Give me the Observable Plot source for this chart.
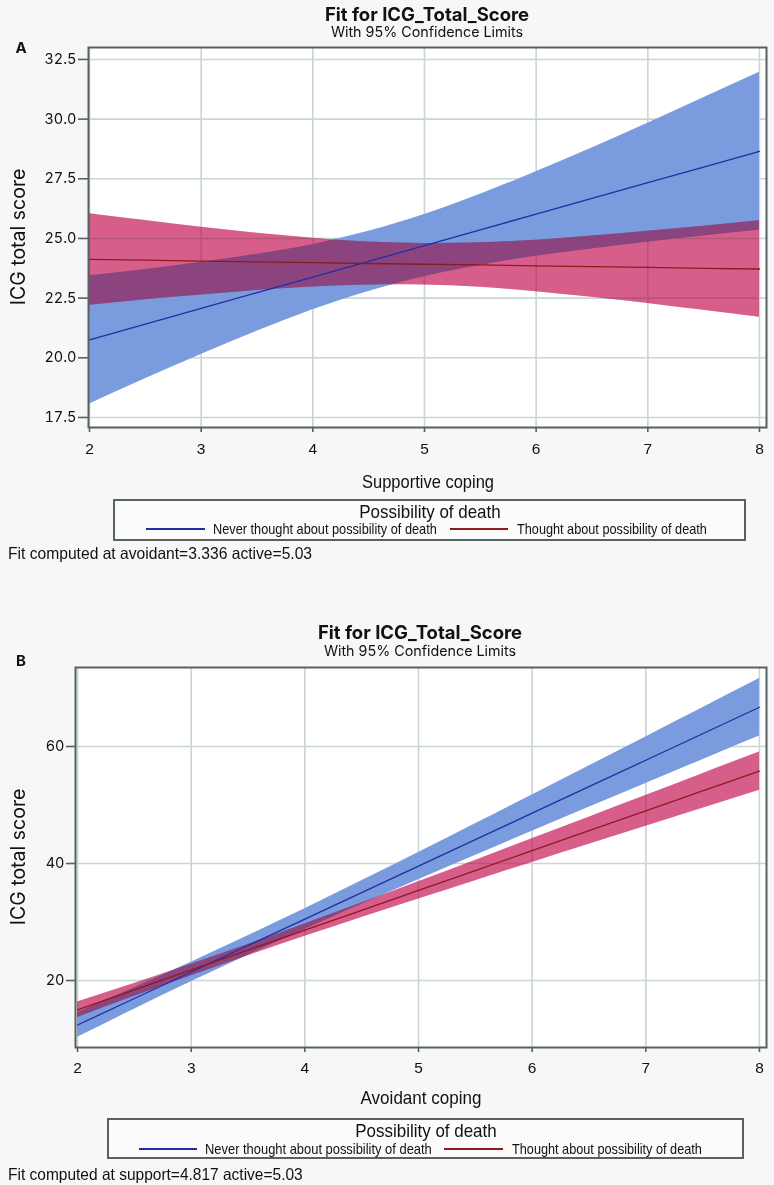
<!DOCTYPE html>
<html>
<head>
<meta charset="utf-8">
<script src="https://cdn.jsdelivr.net/npm/d3@7"></script>
<script src="https://cdn.jsdelivr.net/npm/@observablehq/plot@0.6"></script>
<style>
  html, body { margin: 0; padding: 0; }
  body { width: 774px; height: 1185px; position: relative; overflow: hidden; background: #f7f7f9; font-family: Inter, "Noto Sans", sans-serif; color: #111; }
  .abs { position: absolute; white-space: nowrap; line-height: 1; }
  .title { font-weight: 700; font-size: 18.5px; }
  .sub { font-size: 14.3px; }
  .tag { font-weight: 700; font-size: 15px; }
  .ylab { font-size: 19.5px; }
  .narrow { font-family: "Liberation Sans", Arial, sans-serif; }
  .xlab { font-size: 19px; }
  .legbox { position: absolute; border: 2px solid #56625f; background: #fbfbfc; box-sizing: border-box; }
  .legtitle { font-size: 19px; }
  .legtext { font-size: 14.5px; }
  .caption { font-size: 16.5px; }
  .sw { position: absolute; height: 1.6px; }
  .chart { position: absolute; left: 0; }
</style>
</head>
<body>
<script>
// ---------- data ----------
const seriesNames = ["Never thought about possibility of death", "Thought about possibility of death"];
const xGrid = [2, 2.5, 3, 3.5, 4, 4.5, 5, 5.5, 6, 6.5, 7, 7.5, 8];
const xTicks = [2, 3, 4, 5, 6, 7, 8];

// Panel A: Supportive coping
const aNeverFit   = [20.75, 21.41, 22.07, 22.73, 23.38, 24.04, 24.70, 25.36, 26.02, 26.68, 27.34, 27.99, 28.65];
const aNeverLo    = [18.06, 19.12, 20.14, 21.11, 22.01, 22.78, 23.40, 23.87, 24.25, 24.56, 24.84, 25.10, 25.34];
const aNeverHi    = [23.44, 23.70, 24.00, 24.34, 24.75, 25.30, 26.00, 26.85, 27.79, 28.79, 29.83, 30.89, 31.96];
const aThoughtFit = [24.12, 24.09, 24.05, 24.02, 23.99, 23.95, 23.92, 23.89, 23.85, 23.82, 23.79, 23.75, 23.72];
const aThoughtLo  = [22.20, 22.43, 22.63, 22.82, 22.97, 23.05, 23.05, 22.96, 22.77, 22.54, 22.28, 21.99, 21.70];
const aThoughtHi  = [26.04, 25.75, 25.47, 25.22, 25.01, 24.85, 24.79, 24.82, 24.93, 25.10, 25.30, 25.51, 25.74];
const aYTicks = [17.5, 20, 22.5, 25, 27.5, 30, 32.5];

// Panel B: Avoidant coping
const bNeverFit   = [12.40, 16.93, 21.45, 25.98, 30.50, 35.03, 39.55, 44.08, 48.60, 53.13, 57.65, 62.18, 66.70];
const bNeverLo    = [10.29, 15.09, 19.77, 24.33, 28.73, 33.03, 37.23, 41.38, 45.50, 49.60, 53.67, 57.75, 61.80];
const bNeverHi    = [14.51, 18.77, 23.13, 27.63, 32.27, 37.03, 41.87, 46.78, 51.70, 56.66, 61.63, 66.61, 71.60];
const bThoughtFit = [15.00, 18.40, 21.80, 25.20, 28.60, 32.00, 35.40, 38.80, 42.20, 45.60, 49.00, 52.40, 55.80];
const bThoughtLo  = [13.69, 17.30, 20.82, 24.25, 27.55, 30.77, 33.94, 37.07, 40.18, 43.28, 46.37, 49.45, 52.53];
const bThoughtHi  = [16.31, 19.50, 22.78, 26.15, 29.65, 33.23, 36.86, 40.53, 44.22, 47.92, 51.63, 55.35, 59.07];
const bYTicks = [20, 40, 60];

// ---------- styling ----------
const blueFill = "#7a9bdd";
const pinkFill = "#d85e8b";
const blueLine = "#1f2ea6";
const redLine = "#8e1b1b";
const gridColor = "#c9d6d2";
const frameColor = "#56625f";

function rows(fit, lo, hi, s) {
  return xGrid.map((x, i) => ({x, fit: fit[i], lo: lo[i], hi: hi[i], s}));
}

function panel(o) {
  const never = rows(o.neverFit, o.neverLo, o.neverHi, seriesNames[0]);
  const thought = rows(o.thoughtFit, o.thoughtLo, o.thoughtHi, seriesNames[1]);
  const svg = Plot.plot({
    width: 774, height: 495,
    marginTop: 47, marginBottom: 68, marginLeft: o.ml, marginRight: 8,
    style: {background: "transparent", overflow: "visible", fontFamily: "Inter, sans-serif"},
    x: {domain: o.xDomain},
    y: {domain: o.yDomain},
    marks: [
      Plot.frame({fill: "white", stroke: "none"}),
      Plot.gridX(xTicks, {stroke: gridColor, strokeOpacity: 1, strokeWidth: 1.6}),
      Plot.gridY(o.yTicks, {stroke: gridColor, strokeOpacity: 1, strokeWidth: 1.6}),
      Plot.areaY(never, {x: "x", y1: "lo", y2: "hi", fill: blueFill, curve: "natural"}),
      Plot.areaY(thought, {x: "x", y1: "lo", y2: "hi", fill: pinkFill, curve: "natural", mixBlendMode: "multiply"}),
      Plot.areaY(thought, {x: "x", y1: "lo", y2: "hi", fill: pinkFill, fillOpacity: 0.32, curve: "natural"}),
      Plot.lineY(never, {x: "x", y: "fit", stroke: blueLine, strokeWidth: 1.3}),
      Plot.lineY(thought, {x: "x", y: "fit", stroke: redLine, strokeWidth: 1.3}),
      Plot.frame({stroke: frameColor, strokeWidth: 2}),
      Plot.axisX(xTicks, {tickSize: 5, tickPadding: o.xPad, label: null, stroke: frameColor, strokeWidth: 1.6,
        fontSize: 15.5, fontFamily: '"Liberation Sans", Arial, sans-serif', fill: "#111", tickFormat: d => String(d)}),
      Plot.axisY(o.yTicks, {tickSize: o.yTick, tickPadding: 2, label: null, stroke: frameColor, strokeWidth: 1.6,
        fontSize: 14.5, fill: "#111", tickFormat: o.fmt})
    ]
  });
  svg.classList.add("chart");
  svg.style.top = o.top + "px";
  document.body.appendChild(svg);
}

panel({top: 0, ml: 88, xDomain: [1.991, 8.063], yDomain: [17.08, 33.0], yTicks: aYTicks,
  neverFit: aNeverFit, neverLo: aNeverLo, neverHi: aNeverHi,
  thoughtFit: aThoughtFit, thoughtLo: aThoughtLo, thoughtHi: aThoughtHi,
  xPad: 10, yTick: 10, fmt: d => d.toFixed(1)});
panel({top: 620, ml: 75, xDomain: [1.982, 8.062], yDomain: [8.55, 73.5], yTicks: bYTicks,
  neverFit: bNeverFit, neverLo: bNeverLo, neverHi: bNeverHi,
  thoughtFit: bThoughtFit, thoughtLo: bThoughtLo, thoughtHi: bThoughtHi,
  xPad: 9, yTick: 9, fmt: d => String(d)});

// ---------- text & legends ----------
// anchor: "c" centre, "l" left, "r" rotated centre; w: target width for narrow (condensed) text
function txt(text, cls, x, y, anchor, w) {
  const d = document.createElement("div");
  d.className = "abs " + cls;
  d.style.left = x + "px";
  d.style.top = y + "px";
  d.textContent = text;
  document.body.appendChild(d);
  const s = w ? w / d.offsetWidth : 1;
  if (anchor === "l") {
    d.style.transformOrigin = "0 50%";
    d.style.transform = `translate(0,-50%) scaleX(${s})`;
  } else if (anchor === "r") {
    d.style.transform = "translate(-50%,-50%) rotate(-90deg)";
  } else {
    d.style.transform = `translate(-50%,-50%) scaleX(${s})`;
  }
  return d;
}
function legend(o) {
  const box = document.createElement("div");
  box.className = "legbox";
  Object.assign(box.style, {left: o.x0 + "px", top: o.y0 + "px", width: (o.x1 - o.x0) + "px", height: (o.y1 - o.y0) + "px"});
  document.body.appendChild(box);
  txt("Possibility of death", "narrow legtitle", (o.x0 + o.x1) / 2, o.ty, "c", 141);
  const colors = [blueLine, redLine];
  o.items.forEach((it, i) => {
    const sw = document.createElement("div");
    sw.className = "sw";
    Object.assign(sw.style, {left: it[0] + "px", width: (it[1] - it[0]) + "px", top: (o.ey - 0.8) + "px", background: colors[i]});
    document.body.appendChild(sw);
    txt(seriesNames[i], "narrow legtext", it[2], o.ey, "l", it[3]);
  });
}

// Panel A
txt("Fit for ICG_Total_Score", "title", 427, 14, "c");
txt("With 95% Confidence Limits", "sub", 427, 32, "c");
txt("A", "tag", 21, 47, "c");
txt("ICG total score", "ylab", 19, 237, "r");
txt("Supportive coping", "narrow xlab", 428, 481, "c", 132);
legend({x0: 113, x1: 746, y0: 499, y1: 541, ty: 511, ey: 529,
  items: [[146, 205, 213, 224], [450, 508, 517, 190]]});
txt("Fit computed at avoidant=3.336 active=5.03", "narrow caption", 8, 553, "l", 304);

// Panel B
txt("Fit for ICG_Total_Score", "title", 420, 632, "c");
txt("With 95% Confidence Limits", "sub", 420, 651, "c");
txt("B", "tag", 21, 660, "c");
txt("ICG total score", "ylab", 19, 857, "r");
txt("Avoidant coping", "narrow xlab", 421, 1097, "c", 121);
legend({x0: 107, x1: 744, y0: 1118, y1: 1159, ty: 1130, ey: 1149,
  items: [[139, 197, 205, 227], [444, 503, 512, 190]]});
txt("Fit computed at support=4.817 active=5.03", "narrow caption", 8, 1174, "l", 295);
</script>
</body>
</html>
